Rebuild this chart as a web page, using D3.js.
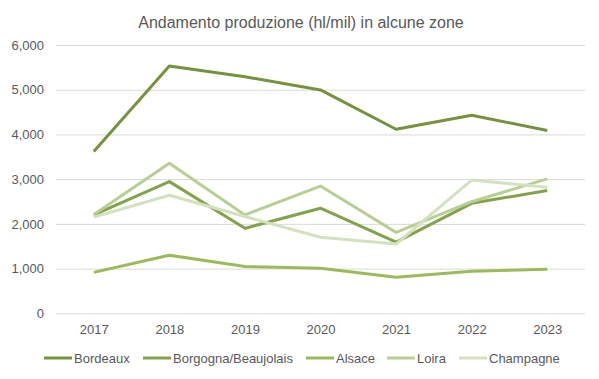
<!DOCTYPE html>
<html><head><meta charset="utf-8">
<script src="https://cdn.jsdelivr.net/npm/d3@7"></script>
<style>body{margin:0;background:#fff}svg{display:block}</style>
</head><body>
<script>
const years = ["2017","2018","2019","2020","2021","2022","2023"];
const seriesNames = ["Bordeaux","Borgogna/Beaujolais","Alsace","Loira","Champagne"];
const bordeaux = [3620,5530,5290,4995,4115,4430,4090];
const borgogna = [2200,2945,1900,2350,1590,2460,2745];
const alsace = [915,1300,1045,1005,805,940,985];
const loira = [2210,3355,2200,2845,1810,2495,3005];
const champagne = [2150,2640,2165,1700,1550,2980,2820];
const yTicks = [0,1000,2000,3000,4000,5000,6000];
const colors = ["#76923c","#84a24b","#9bbb59","#b8cf94","#d3e1bf"];
const values = [bordeaux,borgogna,alsace,loira,champagne];

const W=599,H=379;
const font="'Liberation Sans Narrow','Liberation Sans',Arial,sans-serif";
const svg=d3.select("body").append("svg").attr("width",W).attr("height",H);
const x=d3.scalePoint().domain(years).range([56,585]).padding(0.5);
const y=d3.scaleLinear().domain([0,6000]).range([313.3,45]);

svg.append("text").attr("x",301).attr("y",28).attr("text-anchor","middle")
  .attr("font-family",font).attr("font-size",16).attr("fill","#595959")
  .text("Andamento produzione (hl/mil) in alcune zone");

const yAxis=svg.append("g").attr("transform","translate(56,0)")
  .call(d3.axisLeft(y).tickValues(yTicks).tickSize(-529).tickFormat(d3.format(",")).tickPadding(12));
yAxis.select(".domain").remove();
yAxis.selectAll("line").attr("stroke","#d9d9d9");
yAxis.selectAll("text").attr("font-family",font).attr("font-size",13).attr("fill","#595959");

const xAxis=svg.append("g").attr("transform","translate(0,313.3)")
  .call(d3.axisBottom(x).tickSize(0).tickPadding(11));
xAxis.select(".domain").remove();
xAxis.selectAll("text").attr("font-family",font).attr("font-size",13).attr("fill","#595959");

const line=d3.line().x((d,i)=>x(years[i])).y(d=>y(d));
// draw lighter first so darker appear on top? Excel draws in series order
values.forEach((v,i)=>{
  svg.append("path").datum(v).attr("d",line).attr("fill","none")
    .attr("stroke",colors[i]).attr("stroke-width",3).attr("stroke-linejoin","round");
});

const legX=[44,143,306,387,459];
const lg=svg.append("g");
seriesNames.forEach((n,i)=>{
  lg.append("line").attr("x1",legX[i]).attr("x2",legX[i]+28).attr("y1",358).attr("y2",358)
    .attr("stroke",colors[i]).attr("stroke-width",3);
  lg.append("text").attr("x",legX[i]+30).attr("y",362.5).attr("font-family",font)
    .attr("font-size",13).attr("fill","#595959").text(n);
});
</script>
</body></html>
